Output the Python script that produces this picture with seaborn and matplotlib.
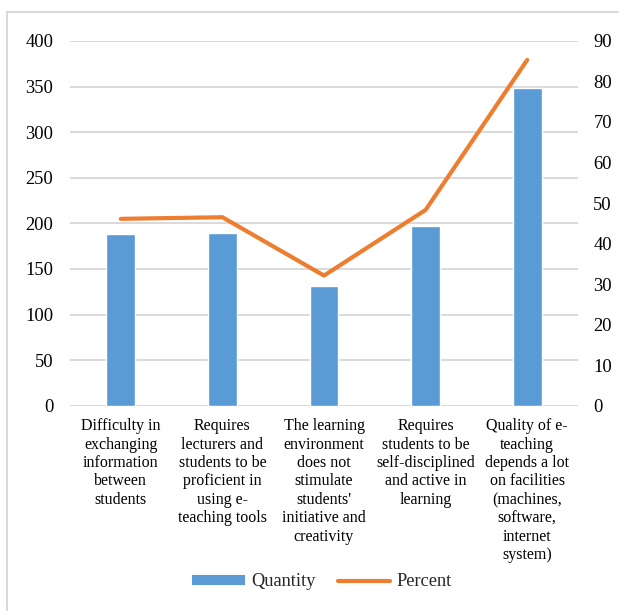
import matplotlib
matplotlib.use("Agg")
import matplotlib.pyplot as plt
import seaborn as sns
import pandas as pd
from matplotlib.patches import Patch, Rectangle
from matplotlib.lines import Line2D

categories = [
    "Difficulty in\nexchanging\ninformation\nbetween\nstudents",
    "Requires\nlecturers and\nstudents to be\nproficient in\nusing e-\nteaching tools",
    "The learning\nenvironment\ndoes not\nstimulate\nstudents'\ninitiative and\ncreativity",
    "Requires\nstudents to be\nself-disciplined\nand active in\nlearning",
    "Quality of e-\nteaching\ndepends a lot\non facilities\n(machines,\nsoftware,\ninternet\nsystem)",
]
quantity = [188, 189, 131, 197, 348]
percent = [46.1, 46.5, 32.1, 48.3, 85.3]
left_ticks = [0, 50, 100, 150, 200, 250, 300, 350, 400]
right_ticks = [0, 10, 20, 30, 40, 50, 60, 70, 80, 90]

df = pd.DataFrame({"category": categories, "Quantity": quantity, "Percent": percent})

sns.set_theme(style="white")
plt.rcParams["font.family"] = ["Liberation Serif", "DejaVu Serif"]
FS_CAT = 11.5
FS_TICK = 13.3
FS_LEG = 13.2
BAR = "#5B9BD5"
LINE = "#ED7D31"
GRID = "#D9D9D9"

fig = plt.figure(figsize=(6.19, 6.11), dpi=100)
W, H = 619, 611
ax = fig.add_axes([70 / W, 1 - 405.7 / H, (578 - 70) / W, (405.7 - 40.9) / H])

sns.barplot(data=df, x="category", y="Quantity", color=BAR, width=0.285,
            saturation=1, ax=ax, zorder=3)
ax.set_ylim(0, 400)
ax.set_yticks(left_ticks)
ax.set_xlim(-0.5, 4.5)
ax.set_xlabel("")
ax.set_ylabel("")
ax.grid(axis="y", color=GRID, linewidth=1.4, zorder=0)
ax.set_axisbelow(True)
for s in ax.spines.values():
    s.set_visible(False)
ax.tick_params(axis="y", length=0, pad=12, labelsize=FS_TICK, labelcolor="black")
ax.tick_params(axis="x", length=0, pad=9, labelsize=FS_CAT, labelcolor="black")
for lbl in ax.get_xticklabels():
    lbl.set_linespacing(1.2)
    lbl.set_verticalalignment("top")
    lbl.set_horizontalalignment("center")
    lbl.set_multialignment("center")

ax2 = ax.twinx()
sns.lineplot(data=df, x="category", y="Percent", color=LINE, linewidth=3.0,
             ax=ax2, sort=False, solid_capstyle="round", zorder=4)
ax2.set_ylim(0, 90)
ax2.set_yticks(right_ticks)
ax2.set_ylabel("")
ax2.set_xlabel("")
for s in ax2.spines.values():
    s.set_visible(False)
ax2.tick_params(axis="y", length=0, pad=11, labelsize=FS_TICK, labelcolor="black")
ax2.grid(False)

handles = [
    Patch(facecolor=BAR, edgecolor="none", label="Quantity"),
    Line2D([0], [0], color=LINE, linewidth=3.0, solid_capstyle="round", label="Percent"),
]
fig.legend(handles=handles, loc="center", bbox_to_anchor=(322 / W, 1 - 582 / H),
           ncol=2, frameon=False, fontsize=FS_LEG, handlelength=2.85, handleheight=0.5,
           handletextpad=0.35, columnspacing=1.2, borderaxespad=0, borderpad=0)

fig.patches.append(Rectangle((7 / W, -0.1), 1.2, 1 - 12 / H + 0.1, transform=fig.transFigure,
                             fill=False, edgecolor=GRID, linewidth=1.4))

fig.savefig("out.png", dpi=100)
